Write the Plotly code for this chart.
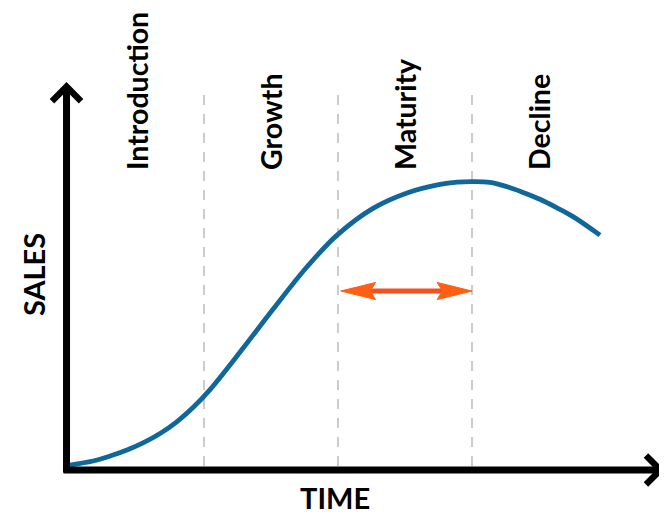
import plotly.graph_objects as go

# ---- data (time in stage units, sales in arbitrary units) ----
time = [0.0, 0.172, 0.299, 0.425, 0.545, 0.672, 0.799, 0.918, 1.045, 1.291, 1.515, 1.769, 1.993,
        2.261, 2.515, 2.761, 2.888, 3.007, 3.134, 3.261, 3.381, 3.507, 3.634, 3.754, 3.955]
sales = [0.35, 1.75, 3.5, 5.6, 8.1, 11.4, 15.6, 20.5, 26.8, 41.3, 55.0, 69.9, 81.0,
         90.4, 95.8, 98.8, 99.6, 99.8, 99.5, 98.0, 96.0, 93.6, 90.6, 87.5, 81.0]
stage_names = ["Introduction", "Growth", "Maturity", "Decline"]
stage_centers = [0.5, 1.5, 2.5, 3.5]
stage_bounds = [1.0, 2.0, 3.0]
maturity_span = [2.02, 3.0]
maturity_arrow_level = 61.4

X_RANGE = [-0.4627, 4.455]
Y_RANGE = [-16.84, 160.7]

BLUE = "#10679a"
ORANGE = "#ff5f12"
FONT = "Lato, sans-serif"

fig = go.Figure()

fig.add_trace(go.Scatter(
    x=time, y=sales, mode="lines",
    line=dict(color=BLUE, width=4.8, shape="spline", smoothing=1.0),
    hoverinfo="skip", showlegend=False,
))

shapes = []
# dashed stage dividers
for b in stage_bounds:
    shapes.append(dict(type="line", xref="x", yref="y", x0=b, x1=b, y0=0, y1=133,
                       line=dict(color="#cccccc", width=2, dash="10px,9px"), layer="below"))

# orange double arrow across the maturity stage
x0, x1 = maturity_span
yl = maturity_arrow_level
hl, hh = 0.26, 3.0
shapes.append(dict(type="line", xref="x", yref="y", x0=x0 + hl * 0.8, x1=x1 - hl * 0.8, y0=yl, y1=yl,
                   line=dict(color="#f4511e", width=5)))
shapes.append(dict(type="path", xref="x", yref="y",
                   path=f"M{x0},{yl} L{x0+hl},{yl+hh} L{x0+hl*0.85},{yl} L{x0+hl},{yl-hh} Z",
                   fillcolor=ORANGE, line=dict(color=ORANGE, width=1)))
shapes.append(dict(type="path", xref="x", yref="y",
                   path=f"M{x1},{yl} L{x1-hl},{yl+hh} L{x1-hl*0.85},{yl} L{x1-hl},{yl-hh} Z",
                   fillcolor=ORANGE, line=dict(color=ORANGE, width=1)))

annotations = []
# axes arrows
annotations.append(dict(x=-0.026, y=134.7, ax=-0.026, ay=-2.8, xref="x", yref="y", axref="x", ayref="y",
                        text="", showarrow=True, arrowhead=4, arrowwidth=7, arrowsize=0.8,
                        arrowcolor="black", standoff=0))
annotations.append(dict(x=4.44, y=-1.4, ax=-0.06, ay=-1.4, xref="x", yref="y", axref="x", ayref="y",
                        text="", showarrow=True, arrowhead=4, arrowwidth=7, arrowsize=0.8,
                        arrowcolor="black", standoff=0))

# stage labels
for name, c in zip(stage_names, stage_centers):
    annotations.append(dict(x=c, y=103.2, xref="x", yref="y", text=name, textangle=-90,
                            showarrow=False, xanchor="center", yanchor="bottom",
                            font=dict(family=FONT, size=28.5, color="black", weight="bold")))

annotations.append(dict(x=-0.276, y=67, xref="x", yref="y", text="SALES", textangle=-90,
                        showarrow=False, xanchor="center", yanchor="middle",
                        font=dict(family=FONT, size=29, color="black", weight="bold")))
annotations.append(dict(x=1.98, y=-10.9, xref="x", yref="y", text="TIME",
                        showarrow=False, xanchor="center", yanchor="middle",
                        font=dict(family=FONT, size=29, color="black", weight="bold")))

fig.update_layout(
    width=659, height=506,
    margin=dict(l=0, r=0, t=0, b=0),
    paper_bgcolor="white", plot_bgcolor="white",
    xaxis=dict(range=X_RANGE, visible=False, fixedrange=True),
    yaxis=dict(range=Y_RANGE, visible=False, fixedrange=True),
    shapes=shapes, annotations=annotations,
    showlegend=False,
)

fig.write_html("out.html")
